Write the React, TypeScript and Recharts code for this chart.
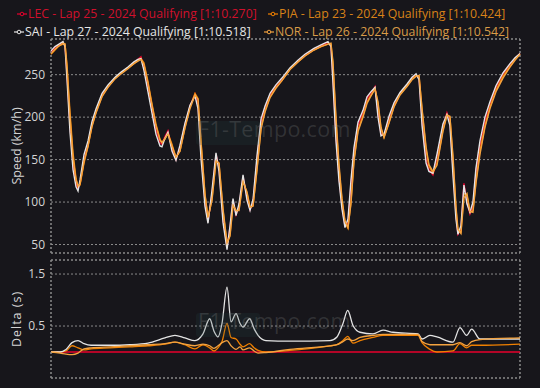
import { LineChart, Line, XAxis, YAxis, CartesianGrid, ReferenceLine } from 'recharts'

// distance along the lap (m) for the speed traces
const distance = [
  0, 28, 56, 84, 98, 112, 133, 154, 175, 189,
  203, 231, 259, 287, 315, 357, 399, 448, 490, 538,
  580, 608, 629, 650, 678, 706, 734, 762, 776, 797,
  818, 846, 874, 902, 937, 972, 1007, 1028, 1049, 1077,
  1098, 1126, 1154, 1175, 1203, 1231, 1252, 1273, 1294, 1315,
  1343, 1371, 1392, 1413, 1441, 1469, 1497, 1532, 1573, 1615,
  1671, 1727, 1776, 1839, 1888, 1937, 1958, 1972, 1993, 2014,
  2035, 2056, 2077, 2098, 2119, 2147, 2182, 2210, 2238, 2266,
  2287, 2308, 2329, 2364, 2399, 2441, 2490, 2525, 2553, 2574,
  2595, 2623, 2643, 2671, 2699, 2720, 2741, 2769, 2790, 2811,
  2832, 2846, 2867, 2888, 2909, 2930, 2951, 2972, 3000, 3035,
  3070, 3112, 3161, 3210, 3245, 3280,
]

const lecSpeed = [
  276, 281, 285, 288, 284, 250, 190, 145, 122, 116,
  122, 150, 168, 192, 207, 226, 236, 246, 252, 258,
  264, 268, 271, 258, 235, 210, 185, 170, 168, 177,
  184, 163, 150, 165, 191, 213, 227, 215, 160, 100,
  77, 110, 156, 140, 80, 47, 70, 102, 85, 95,
  130, 105, 91, 100, 150, 195, 211, 226, 236, 244,
  257, 266, 273, 280, 284, 288, 284, 245, 178, 130,
  95, 72, 75, 120, 160, 190, 205, 222, 228, 236,
  205, 180, 178, 198, 215, 228, 238, 246, 250, 246,
  196, 150, 138, 132, 152, 170, 189, 205, 195, 140,
  85, 62, 68, 122, 100, 86, 95, 135, 166, 195,
  215, 235, 250, 262, 269, 275,
]

const piaSpeed = [
  274, 279, 284, 286, 286, 262, 205, 158, 128, 118,
  120, 146, 166, 190, 206, 225, 236, 246, 252, 258,
  263, 267, 269, 264, 242, 216, 192, 174, 170, 174,
  181, 168, 152, 160, 188, 212, 228, 222, 172, 110,
  80, 104, 150, 145, 90, 50, 62, 98, 88, 92,
  126, 110, 93, 96, 140, 188, 208, 224, 235, 243,
  256, 265, 272, 279, 283, 286, 286, 262, 195, 140,
  102, 76, 69, 100, 150, 185, 202, 218, 226, 234,
  215, 186, 176, 194, 213, 227, 237, 245, 249, 248,
  208, 162, 142, 134, 145, 165, 185, 203, 200, 150,
  92, 66, 64, 110, 108, 88, 90, 125, 160, 190,
  212, 232, 248, 260, 268, 274,
]

const saiSpeed = [
  278, 283, 286, 289, 283, 244, 182, 138, 118, 113,
  126, 156, 172, 195, 210, 228, 238, 247, 253, 259,
  265, 268, 269, 255, 230, 205, 180, 166, 165, 175,
  182, 160, 149, 167, 193, 214, 225, 210, 152, 95,
  75, 114, 158, 136, 76, 44, 72, 104, 84, 98,
  132, 102, 90, 103, 155, 198, 213, 228, 238, 246,
  258, 267, 274, 281, 285, 289, 283, 240, 172, 125,
  92, 70, 80, 126, 164, 194, 208, 224, 230, 235,
  200, 178, 180, 201, 217, 229, 239, 247, 251, 244,
  190, 146, 136, 134, 156, 174, 192, 203, 190, 132,
  80, 62, 72, 120, 98, 88, 100, 140, 172, 200,
  218, 237, 252, 263, 270, 275,
]

const norSpeed = [
  275, 280, 284, 287, 286, 258, 200, 152, 126, 119,
  121, 148, 166, 189, 205, 224, 235, 245, 251, 257,
  263, 266, 268, 262, 240, 214, 190, 173, 170, 175,
  180, 166, 153, 160, 187, 210, 226, 221, 170, 108,
  82, 102, 148, 146, 92, 52, 60, 96, 90, 90,
  124, 112, 94, 95, 138, 186, 206, 223, 234, 243,
  256, 265, 272, 279, 283, 286, 287, 265, 200, 145,
  104, 78, 70, 98, 148, 183, 200, 216, 225, 233,
  218, 188, 176, 193, 212, 226, 236, 244, 248, 249,
  210, 165, 144, 136, 143, 163, 183, 202, 201, 155,
  95, 68, 63, 105, 110, 89, 88, 122, 156, 188,
  210, 230, 246, 259, 267, 274,
]

// gap to LEC (s)
const deltaDistance = [
  0, 63, 105, 147, 189, 231, 280, 413, 552, 678,
  797, 867, 937, 1007, 1063, 1110, 1140, 1168, 1196, 1231,
  1259, 1294, 1322, 1343, 1389, 1420, 1448, 1503, 1671, 1951,
  2000, 2042, 2075, 2112, 2161, 2252, 2322, 2392, 2567, 2595,
  2650, 2699, 2811, 2860, 2907, 2942, 3000, 3280,
]

const lecDelta = [
  0, 0, 0, 0, 0, 0, 0, 0, 0, 0,
  0, 0, 0, 0, 0, 0, 0, 0, 0, 0,
  0, 0, 0, 0, 0, 0, 0, 0, 0, 0,
  0, 0, 0, 0, 0, 0, 0, 0, 0, 0,
  0, 0, 0, 0, 0, 0, 0, 0,
]

const piaDelta = [
  0, 0, 0.02, 0.12, 0.08, 0.04, 0.06, 0.08, 0.1, 0.12,
  0.15, 0.19, 0.14, 0.06, 0.14, 0.08, 0.02, 0.08, 0.2, 0.55,
  0.28, 0.25, 0.15, 0.1, 0.16, 0.08, 0.03, 0, 0.03, 0.12,
  0.14, 0.22, 0.3, 0.17, 0.22, 0.28, 0.32, 0.32, 0.32, 0.18,
  0.05, 0, 0.02, 0.16, 0.08, 0.13, 0.13, 0.15,
]

const saiDelta = [
  0, 0, 0.05, 0.18, 0.22, 0.16, 0.13, 0.13, 0.14, 0.17,
  0.27, 0.32, 0.27, 0.22, 0.35, 0.64, 0.4, 0.29, 0.55, 1.25,
  0.58, 0.74, 0.55, 0.48, 0.64, 0.45, 0.32, 0.22, 0.21, 0.22,
  0.29, 0.55, 0.8, 0.51, 0.38, 0.35, 0.42, 0.38, 0.35, 0.25,
  0.32, 0.29, 0.19, 0.47, 0.32, 0.44, 0.25, 0.25,
]

const norDelta = [
  0, -0.02, -0.04, -0.05, -0.02, 0.06, 0.08, 0.1, 0.12, 0.14,
  0.16, 0.19, 0.15, 0.12, 0.15, 0.12, 0.07, 0.12, 0.18, 0.22,
  0.12, 0.05, 0.1, 0.04, 0.08, 0.02, -0.02, -0.01, 0.05, 0.12,
  0.14, 0.2, 0.25, 0.22, 0.28, 0.32, 0.34, 0.34, 0.34, 0.2,
  0.14, 0.14, 0.14, 0.18, 0.12, 0.2, 0.24, 0.27,
]

const distTicks = [0, 500, 1000, 1500, 2000, 2500, 3000]
const speedTicks = [50, 100, 150, 200, 250]
const deltaTicks = [-0.5, 0.5, 1.5]

const drivers = [
  { key: 'LEC', label: 'LEC - Lap 25 - 2024 Qualifying [1:10.270]', color: '#e8002d', text: '#d0102c' },
  { key: 'PIA', label: 'PIA - Lap 23 - 2024 Qualifying [1:10.424]', color: '#f08000', text: '#d98218' },
  { key: 'SAI', label: 'SAI - Lap 27 - 2024 Qualifying [1:10.518]', color: '#e4e4e4', text: '#e6e6e6' },
  { key: 'NOR', label: 'NOR - Lap 26 - 2024 Qualifying [1:10.542]', color: '#f4a340', text: '#d99c48' },
]

const speedData = distance.map((d, i) => ({
  d, LEC: lecSpeed[i], PIA: piaSpeed[i], SAI: saiSpeed[i], NOR: norSpeed[i],
}))
const deltaData = deltaDistance.map((d, i) => ({
  d, LEC: lecDelta[i], PIA: piaDelta[i], SAI: saiDelta[i], NOR: norDelta[i],
}))

const BG = '#17161b'
const FONT = '"Open Sans", sans-serif'
const gridStroke = '#8a8a8a'
const dots = '2 2'
const tickStyle = { fill: '#d4d4d4', fontSize: 12, fontFamily: FONT }
const axisLine = { stroke: gridStroke, strokeDasharray: dots }

const legendPos = [
  { left: 17, top: 5 },
  { left: 268, top: 5 },
  { left: 14, top: 23 },
  { left: 264, top: 23 },
]

function Watermark({ top }: { top: number }) {
  return (
    <>
      <div style={{
        position: 'absolute', left: 196, top: top + 7, width: 64, height: 24, borderRadius: 3,
        background: 'rgba(40,70,70,0.18)', pointerEvents: 'none',
      }} />
      <div style={{
        position: 'absolute', left: 198, top, fontFamily: FONT, fontSize: 21.5,
        color: 'rgba(150,150,150,0.22)', pointerEvents: 'none', letterSpacing: 0.3,
      }}>
        F1-Tempo.com
      </div>
    </>
  )
}

export default function App() {
  return (
    <div style={{ position: 'absolute', left: 0, top: 0, width: 540, height: 388, background: BG, overflow: 'hidden' }}>
      {drivers.map((dr, i) => (
        <div key={dr.key} style={{
          position: 'absolute', left: legendPos[i].left, top: legendPos[i].top,
          display: 'flex', alignItems: 'center', fontFamily: FONT, fontSize: 12.3, color: dr.text, whiteSpace: 'nowrap',
        }}>
          <svg width={10} height={6} style={{ marginRight: 1 }}>
            <line x1={0} y1={3} x2={10} y2={3} stroke={dr.color} strokeWidth={1.2} />
            <circle cx={5} cy={3} r={1.8} fill={BG} stroke={dr.color} strokeWidth={1} />
          </svg>
          <span>{dr.label}</span>
        </div>
      ))}

      <div style={{ position: 'absolute', left: 0, top: 0 }}>
        <LineChart width={540} height={262} data={speedData} margin={{ top: 39, right: 20, bottom: 4, left: 0 }}>
          <CartesianGrid stroke={gridStroke} strokeDasharray={dots} />
          <XAxis dataKey="d" type="number" domain={[0, 3280]} ticks={distTicks} tick={false}
            tickLine={{ stroke: gridStroke }} tickSize={5} height={5} axisLine={axisLine} />
          <YAxis type="number" domain={[40, 292]} ticks={speedTicks} allowDataOverflow width={51}
            tick={tickStyle} tickLine={false} tickSize={6} tickMargin={0} axisLine={axisLine}
            label={{ value: 'Speed (km/h)', angle: -90, position: 'center', dx: -9, fill: '#d4d4d4', fontSize: 12.5, fontFamily: FONT }} />
          <ReferenceLine y={292} stroke={gridStroke} strokeDasharray={dots} />
          <ReferenceLine x={3280} stroke={gridStroke} strokeDasharray={dots} />
          {drivers.map(dr => (
            <Line key={dr.key} dataKey={dr.key} type="linear" stroke={dr.color} strokeWidth={1.4}
              dot={false} isAnimationActive={false} />
          ))}
        </LineChart>
      </div>

      <div style={{ position: 'absolute', left: 0, top: 256 }}>
        <LineChart width={540} height={128} data={deltaData} margin={{ top: 4, right: 20, bottom: 1, left: 0 }}>
          <CartesianGrid stroke={gridStroke} strokeDasharray={dots} />
          <XAxis dataKey="d" type="number" domain={[0, 3280]} ticks={distTicks} tick={false}
            tickLine={{ stroke: gridStroke }} tickSize={5} height={5} axisLine={axisLine} />
          <YAxis type="number" domain={[-0.5, 1.77]} ticks={deltaTicks} allowDataOverflow width={51}
            tick={tickStyle} tickLine={false} tickSize={6} tickMargin={0} axisLine={axisLine}
            label={{ value: 'Delta (s)', angle: -90, position: 'center', dx: -9, fill: '#d4d4d4', fontSize: 12.5, fontFamily: FONT, letterSpacing: 1 }} />
          <ReferenceLine y={1.77} stroke={gridStroke} strokeDasharray={dots} />
          <ReferenceLine x={3280} stroke={gridStroke} strokeDasharray={dots} />
          {drivers.map(dr => (
            <Line key={dr.key} dataKey={dr.key} type="monotone" stroke={dr.color} strokeWidth={1.3}
              dot={false} isAnimationActive={false} />
          ))}
        </LineChart>
      </div>

      <Watermark top={114} />
      <Watermark top={306} />
    </div>
  )
}
